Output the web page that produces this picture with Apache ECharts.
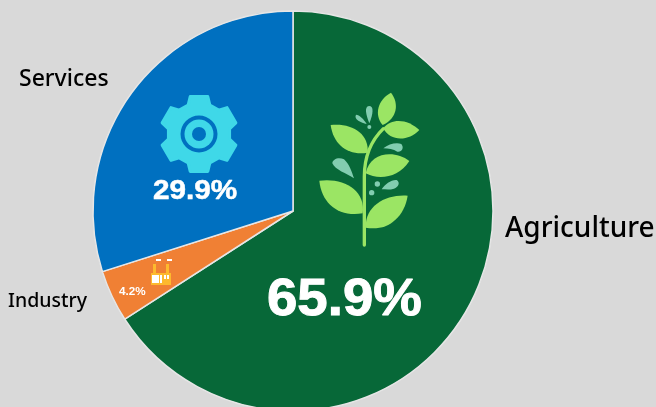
<!DOCTYPE html>
<html>
<head>
<meta charset="utf-8">
<style>
  html, body { margin: 0; padding: 0; background: #d9d9d9; }
  #chart { width: 656px; height: 407px; }
</style>
<script src="https://cdn.jsdelivr.net/npm/echarts@6/dist/echarts.min.js"></script>
</head>
<body>
<div id="chart"></div>
<script>
const categories = ['Agriculture', 'Industry', 'Services'];
const shares = [65.9, 4.2, 29.9];
const sliceColors = ['#076838', '#f08034', '#0070c0'];

const leafColor = '#9be564';
const dropColor = '#82cdb0';
const gearColor = '#3fd8e8';

// plant icon, drawn in a 3x box then scaled down
const leafPaths = [
  'M248,135 C222,105 232,60 273,38 C298,70 292,115 248,135 Z',
  'M250,145 C275,112 325,118 358,150 C325,185 270,185 250,145 Z',
  'M203,218 C145,228 100,195 92,135 C155,128 208,160 203,218 Z',
  'M197,280 C210,215 285,210 328,243 C295,295 235,300 197,280 Z',
  'M188,400 C115,412 65,370 58,302 C130,292 198,330 188,400 Z',
  'M197,443 C195,375 260,342 323,347 C312,415 260,455 197,443 Z'
];
const dropPaths = [
  'M207,78 C222,78 220,100 208,130 C198,105 192,80 207,78 Z',
  'M168,104 C178,104 192,118 200,132 C184,128 160,118 168,104 Z',
  'M250,205 C265,192 290,186 304,192 C314,204 304,218 292,215 C280,208 265,205 250,205 Z',
  'M162,295 C140,280 105,270 97,250 C97,236 118,230 132,238 C148,252 155,275 162,295 Z',
  'M245,328 C255,312 275,298 290,300 C302,308 295,322 282,326 C270,330 258,328 245,328 Z'
];
const dropDots = [[208, 141, 6], [232, 312, 8], [215, 338, 8]];

// graphic component has no plain path type, so each svg path gets registered
let shapeCount = 0;
function svgShape(d, style) {
  const name = 'iconPath' + shapeCount++;
  echarts.graphic.registerShape(name, echarts.graphic.extendPath(d, {}));
  return { type: name, z: 10, style: style };
}

function plantIcon() {
  const children = [
    svgShape('M193,495 L193,290 C193,230 215,180 250,146', { fill: null, stroke: leafColor, lineWidth: 10, lineCap: 'round' })
  ];
  leafPaths.forEach(function (d) {
    children.push(svgShape(d, { fill: leafColor }));
  });
  dropPaths.forEach(function (d) {
    children.push(svgShape(d, { fill: dropColor }));
  });
  dropDots.forEach(function (c) {
    children.push({ type: 'circle', z: 10, shape: { cx: c[0], cy: c[1], r: c[2] }, style: { fill: dropColor } });
  });
  return { type: 'group', x: 300, y: 80, scaleX: 1 / 3, scaleY: 1 / 3, children: children };
}

function gearPoints(cx, cy, outer, root, teeth) {
  const pts = [];
  const step = Math.PI * 2 / teeth;
  for (let i = 0; i < teeth; i++) {
    const a = -Math.PI / 2 + i * step;
    [[a - step * 0.34, root], [a - step * 0.22, outer], [a + step * 0.22, outer], [a + step * 0.34, root]].forEach(function (p) {
      pts.push([cx + Math.cos(p[0]) * p[1], cy + Math.sin(p[0]) * p[1]]);
    });
  }
  return pts;
}

function gearIcon() {
  const cx = 199, cy = 134;
  return {
    type: 'group',
    children: [
      { type: 'polygon', z: 10, shape: { points: gearPoints(cx, cy, 38.5, 31, 6) }, style: { fill: gearColor, stroke: gearColor, lineWidth: 3, lineJoin: 'round' } },
      { type: 'circle', z: 10, shape: { cx: cx, cy: cy, r: 18.5 }, style: { fill: '#0070c0' } },
      { type: 'circle', z: 10, shape: { cx: cx, cy: cy, r: 14.5 }, style: { fill: gearColor } },
      { type: 'circle', z: 10, shape: { cx: cx, cy: cy, r: 7 }, style: { fill: '#0070c0' } }
    ]
  };
}

function factoryIcon() {
  const amber = '#fdb92e';
  const rect = function (x, y, w, h, fill) {
    return { type: 'rect', z: 10, shape: { x: x, y: y, width: w, height: h }, style: { fill: fill } };
  };
  return {
    type: 'group',
    children: [
      rect(153, 264, 3, 10, amber),
      rect(166, 264, 3, 10, amber),
      rect(151, 273, 20, 12, amber),
      rect(152, 275, 7, 8, '#fff'),
      rect(160, 275, 2, 8, '#fff'),
      rect(164, 275, 2, 4, '#fff'),
      rect(167, 275, 2, 4, '#fff'),
      rect(156, 259, 5, 2, '#fff'),
      rect(167, 259, 5, 2, '#fff')
    ]
  };
}

function pct(i) {
  return shares[i].toFixed(1) + '%';
}

// percent labels are a bit wider and heavier than the plain font, hence the stretch and stroke
function pctLabel(i, x, y, size, stretch, weight) {
  return {
    type: 'text', x: x, y: y, z: 11, scaleX: stretch,
    style: {
      text: pct(i), fill: '#fff', stroke: '#fff', lineWidth: weight, align: 'left', verticalAlign: 'middle',
      font: 'bold ' + size + 'px "Liberation Sans", Arial, sans-serif'
    }
  };
}

function nameLabel(i, x, y, size) {
  return {
    type: 'text', x: x, y: y, z: 11,
    style: {
      text: categories[i], fill: '#000', align: 'left', verticalAlign: 'middle',
      font: '500 ' + size + 'px "Noto Sans", sans-serif'
    }
  };
}

let myChart = echarts.init(document.getElementById('chart'), null, { renderer: 'canvas' });

let option = {
  backgroundColor: '#d9d9d9',
  animation: false,
  series: [{
    type: 'pie',
    center: [293, 211],
    radius: [0, 200],
    startAngle: 90,
    clockwise: true,
    silent: true,
    label: { show: false },
    labelLine: { show: false },
    itemStyle: { borderColor: '#e6e6e6', borderWidth: 1.5 },
    data: categories.map(function (name, i) {
      return { name: name, value: shares[i], itemStyle: { color: sliceColors[i] } };
    })
  }],
  graphic: [
    plantIcon(),
    gearIcon(),
    factoryIcon(),
    pctLabel(0, 267, 301, 52, 1.05, 1),
    pctLabel(2, 153, 192, 27, 1.1, 0.5),
    pctLabel(1, 119, 292, 10, 1.17, 0),
    nameLabel(0, 505, 229, 28),
    nameLabel(2, 19, 79, 23),
    nameLabel(1, 8, 301, 19.5)
  ]
};
myChart.setOption(option);

window.addEventListener('resize', function () {
  myChart.resize();
});
</script>
</body>
</html>
